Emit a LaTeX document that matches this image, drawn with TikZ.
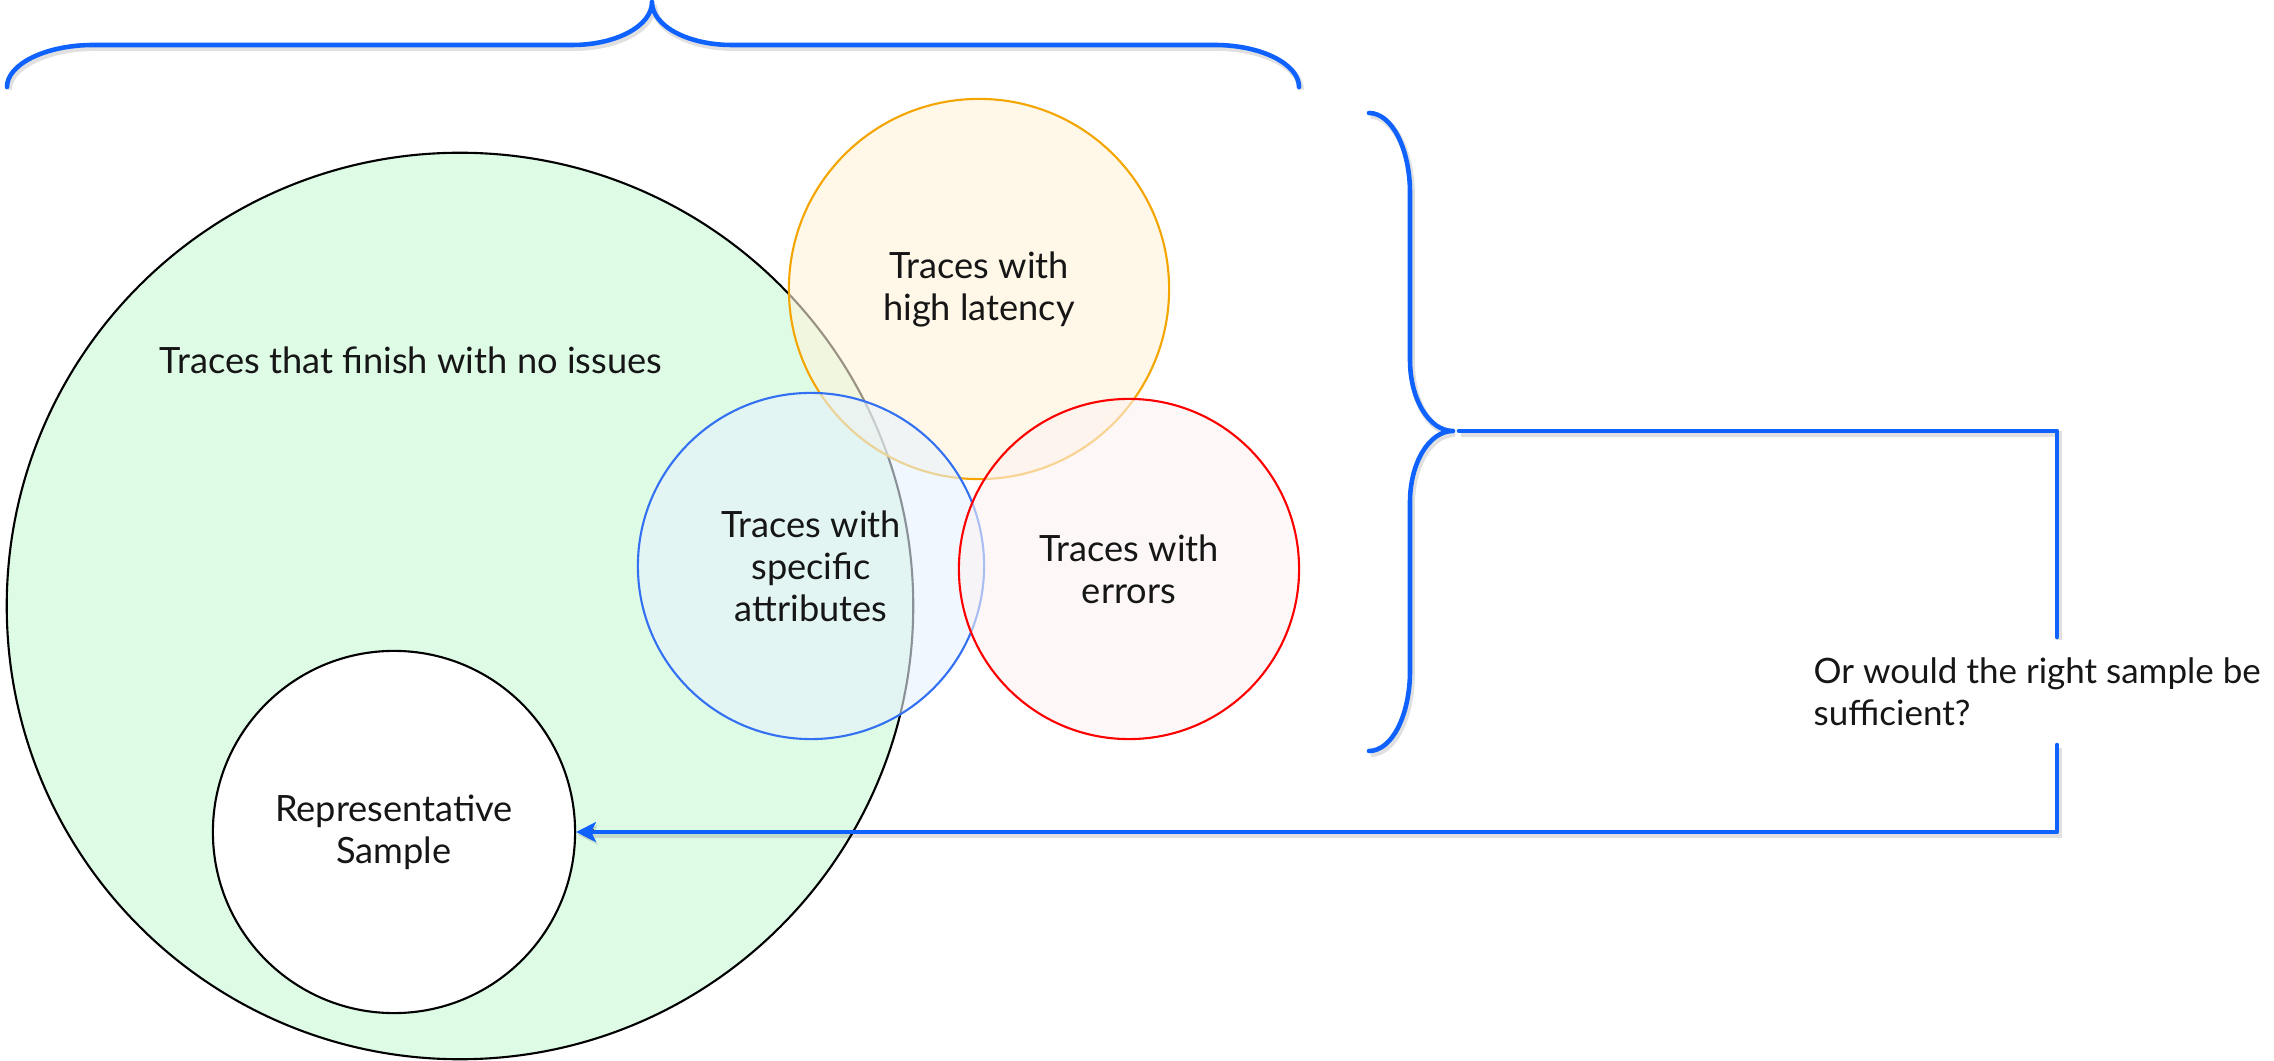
\documentclass[tikz,border=0pt]{standalone}
\usepackage{fontspec}
\setmainfont{Lato}
\usetikzlibrary{arrows.meta}

\definecolor{ibmblue}{HTML}{0F62FE}
\definecolor{txt}{HTML}{161616}
\definecolor{greenfill}{HTML}{DEFBE6}
\definecolor{orangeline}{HTML}{F4A500}
\definecolor{orangefill}{HTML}{FFF3D9}
\definecolor{blueline}{HTML}{3371F2}
\definecolor{bluefill}{HTML}{E6F2FD}
\definecolor{redline}{HTML}{FF0000}
\definecolor{redfill}{HTML}{FCF2F2}

\begin{document}
\begin{tikzpicture}[x=0.01cm,y=-0.01cm,
  lbl/.style={font=\fontsize{10.3}{11.95}\selectfont, text=txt, align=center},
  setcircle/.style={circle, draw, line width=0.6pt, inner sep=0pt,
    fill opacity=0.6, text opacity=1, lbl},
  link/.style={draw=ibmblue, line width=1.3pt, line cap=round, line join=round,
    preaction={draw=black, draw opacity=0.12, line width=1.8pt,
      transform canvas={xshift=0.5pt, yshift=-0.8pt}}}
]
\useasboundingbox (0,0) rectangle (2274,1061);

% the whole population of traces
\node[setcircle, draw=black, fill=greenfill, fill opacity=1, minimum size=9.06cm]
  (all) at (460,606) {};
\node[lbl] (allText) at (411,360) {Traces that finish with no issues};

% the sample taken from it
\node[setcircle, draw=black, fill=white, fill opacity=1, minimum size=3.62cm]
  (rep) at (394,832) {Representative\\Sample};

% the interesting subsets
\node[setcircle, draw=orangeline, fill=orangefill, minimum size=3.8cm]
  (lat) at (979,289) {Traces with\\high latency};
\node[setcircle, draw=blueline, fill=bluefill, minimum size=3.46cm]
  (attr) at (811,566) {Traces with\\specific\\attributes};
\node[setcircle, draw=redline, fill=redfill, minimum size=3.4cm]
  (err) at (1129,569) {Traces with\\errors};

% question on the right
\node[lbl, font=\fontsize{9.95}{11.95}\selectfont, align=left, inner sep=0pt,
  anchor=north west] (q) at (1813,657)
  {Or would the right sample be\\sufficient?};

% brace over the whole set
\coordinate (tbTip) at (652,2);
\draw[link] (7,87) .. controls (7,64) and (46,45) .. (93,45) -- (572,45)
  .. controls (616,45) and (652,26) .. (tbTip)
  .. controls (652,26) and (688,45) .. (732,45) -- (1215,45)
  .. controls (1261,45) and (1299,64) .. (1299,87);

% brace grouping the subsets
\coordinate (rbTip) at (1453,431);
\draw[link] (1369,113) .. controls (1392,113) and (1410,149) .. (1410,193)
  -- (1410,360) .. controls (1410,399) and (1429,431) .. (rbTip)
  .. controls (1429,431) and (1410,463) .. (1410,502)
  -- (1410,671) .. controls (1410,715) and (1392,751) .. (1369,751);

% connector from the brace to the sample
\coordinate (cStart) at (1459,431);
\coordinate (cTurn) at (2057,431);
\coordinate (cGapTop) at (2057,637);
\coordinate (cGapBot) at (2057,745);
\coordinate (cCorner) at (2057,832);
\draw[link] (cStart) -- (cTurn) -- (cGapTop);
\draw[link, -{Stealth[length=5.6pt, width=5.6pt, inset=1.3pt]}] (cGapBot) -- (cCorner) -- (rep.east);
\end{tikzpicture}
\end{document}
